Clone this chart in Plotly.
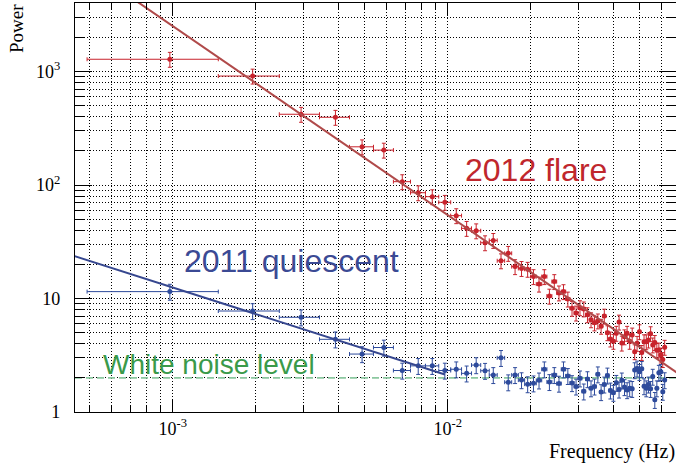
import plotly.graph_objects as go

# ---------------- data ----------------
FREQ_STEP_HZ = 1.0 / 1024.0          # frequency resolution of the periodogram
freq_bins = list(range(1, 64))       # bin index k, frequency = k * FREQ_STEP_HZ

flare_power = [
    1282, 912, 420, 395, 217, 203, 107, 85.5, 78.9, 70.4,
    53.7, 41.5, 39.5, 31.0, 32.5, 21.5, 25.0, 19.1, 18.4, 18.1,
    15.6, 13.4, 15.6, 10.5, 14.1, 11.2, 11.5, 9.9, 8.2, 7.45,
    8.3, 8.1, 7.2, 6.5, 6.1, 6.35, 5.7, 7.0, 5.0, 4.4,
    4.2, 4.94, 6.2, 4.05, 4.6, 4.94, 4.2, 4.77, 3.4, 4.03,
    5.1, 3.35, 4.16, 4.16, 4.31, 4.9, 3.9, 4.1, 3.5, 3.52,
    3.18, 2.9, 3.72,
]
quiescent_power = [
    11.5, 7.76, 6.83, 4.37, 3.24, 3.70, 2.32, 2.55, 2.55, 2.32,
    2.38, 2.19, 2.59, 2.31, 2.12, 3.00, 1.83, 2.12, 1.91, 1.76,
    1.79, 1.90, 2.38, 1.84, 2.12, 1.78, 2.38, 2.08, 1.80, 1.68,
    1.98, 1.52, 1.95, 1.62, 1.68, 2.15, 1.50, 1.75, 2.10, 1.55,
    1.48, 1.81, 1.58, 1.90, 1.66, 1.56, 1.62, 1.60, 2.34, 2.42,
    2.26, 2.40, 1.69, 1.62, 1.75, 1.60, 2.05, 1.28, 1.62, 2.22,
    2.26, 1.51, 1.91,
]
flare_err_pct = 15
quiescent_err_pct = 16

# power-law fits (end points of the straight lines in log-log space)
flare_fit_freq = [4.4e-4, 0.07]
flare_fit_power = [9860, 2.13]
quiescent_fit_freq = [4.4e-4, 9.77e-3]
quiescent_fit_power = [23.6, 2.14]
white_noise_level = 2.0

x_major_ticks = [1e-3, 1e-2]
x_major_labels = ["10<sup>-3</sup>", "10<sup>-2</sup>"]
x_minor_ticks = [5e-4, 6e-4, 7e-4, 8e-4, 9e-4,
                 2e-3, 3e-3, 4e-3, 5e-3, 6e-3, 7e-3, 8e-3, 9e-3,
                 2e-2, 3e-2, 4e-2, 5e-2, 6e-2]
y_major_ticks = [1, 10, 100, 1000]
y_major_labels = ["1", "10", "10<sup>2</sup>", "10<sup>3</sup>"]
y_minor_ticks = [2, 3, 4, 5, 6, 7, 8, 9,
                 20, 30, 40, 50, 60, 70, 80, 90,
                 200, 300, 400, 500, 600, 700, 800, 900,
                 2000, 3000]

XLOG_RANGE = [-3.3553, -1.1698]
YLOG_RANGE = [0.0, 3.6035]

# ---------------- style ----------------
RED_PTS = "#c8232c"
RED_LINE = "#b04a4a"
BLUE_PTS = "#2e4b9c"
BLUE_LINE = "#36478f"
GREEN_TXT = "#3a9a4a"
GREEN_LINE = "#8cc8a0"
SERIF = "Liberation Serif, Times New Roman, serif"
SANS = "Liberation Sans, Arial, Helvetica, sans-serif"
GRID = "#000000"

freqs = [k * FREQ_STEP_HZ for k in freq_bins]

fig = go.Figure()

fig.add_trace(go.Scatter(
    x=[10 ** XLOG_RANGE[0], 10 ** XLOG_RANGE[1]],
    y=[white_noise_level, white_noise_level],
    mode="lines", line=dict(color=GREEN_LINE, width=1.6, dash="7px,4px"),
    hoverinfo="skip", showlegend=False))


def data_trace(y, color, pct):
    return go.Scatter(
        x=freqs, y=y, mode="markers",
        marker=dict(color=color, size=5, line=dict(width=0)),
        error_x=dict(type="constant", value=FREQ_STEP_HZ / 2, color=color,
                     thickness=1, width=2),
        error_y=dict(type="percent", value=pct, color=color,
                     thickness=1, width=2),
        showlegend=False)


fig.add_trace(data_trace(quiescent_power, BLUE_PTS, quiescent_err_pct))
fig.add_trace(data_trace(flare_power, RED_PTS, flare_err_pct))

fig.add_trace(go.Scatter(x=flare_fit_freq, y=flare_fit_power, mode="lines",
                         line=dict(color=RED_LINE, width=2), showlegend=False))
fig.add_trace(go.Scatter(x=quiescent_fit_freq, y=quiescent_fit_power, mode="lines",
                         line=dict(color=BLUE_LINE, width=2), showlegend=False))

common_axis = dict(
    type="log", ticks="inside", tickcolor="black", tickwidth=1,
    showline=True, linecolor="black", linewidth=1.2, mirror="allticks",
    showgrid=True, gridcolor=GRID, gridwidth=1, griddash="1px,2px",
    zeroline=False, tickmode="array",
    tickfont=dict(family=SERIF, size=18, color="black"),
)

fig.update_layout(
    width=676, height=467,
    margin=dict(l=75, r=0, t=3, b=55),
    paper_bgcolor="white", plot_bgcolor="white",
    xaxis=dict(common_axis, range=XLOG_RANGE, tickvals=x_major_ticks,
               ticktext=x_major_labels, ticklen=13,
               minor=dict(tickmode="array", tickvals=x_minor_ticks,
                          ticks="inside", ticklen=6, tickcolor="black",
                          showgrid=True, gridcolor=GRID, gridwidth=1,
                          griddash="1px,2px")),
    yaxis=dict(common_axis, range=YLOG_RANGE, tickvals=y_major_ticks,
               ticktext=y_major_labels, ticklen=17, ticklabelstandoff=10,
               minor=dict(tickmode="array", tickvals=y_minor_ticks,
                          ticks="inside", ticklen=9, tickcolor="black",
                          showgrid=True, gridcolor=GRID, gridwidth=1,
                          griddash="1px,2px")),
    annotations=[
        dict(text="2012 flare", xref="paper", yref="paper",
             x=(463 - 75) / 601, y=(412 - 170) / 409, xanchor="left", yanchor="middle",
             showarrow=False, font=dict(family=SANS, size=32, color="#c0272d")),
        dict(text="2011 quiescent", xref="paper", yref="paper",
             x=(182 - 75) / 601, y=(412 - 261) / 409, xanchor="left", yanchor="middle",
             showarrow=False, font=dict(family=SANS, size=32, color="#3b4a94")),
        dict(text="White noise level", xref="paper", yref="paper",
             x=(101 - 75) / 601, y=(412 - 364) / 409, xanchor="left", yanchor="middle",
             showarrow=False, font=dict(family=SANS, size=28, color=GREEN_TXT)),
        dict(text="Power", xref="paper", yref="paper", textangle=-90,
             x=(17 - 75) / 601, y=(412 - 29) / 409, xanchor="center", yanchor="middle",
             showarrow=False, font=dict(family=SERIF, size=19, color="black")),
        dict(text="Frequency (Hz)", xref="paper", yref="paper",
             x=1.0, y=(412 - 451) / 409, xanchor="right", yanchor="middle",
             xshift=1,
             showarrow=False, font=dict(family=SERIF, size=20, color="black")),
    ],
)

fig.write_html(
    "out.html",
    config={"displayModeBar": False},
    post_script="document.body.style.margin='0';document.body.style.padding='0';",
)
